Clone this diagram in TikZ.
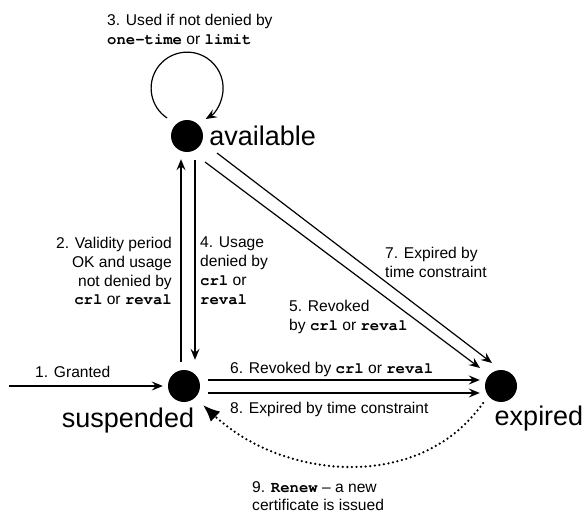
\documentclass[tikz,border=0pt]{standalone}
\usepackage{fontspec}
\setmainfont{Liberation Sans}
\setmonofont{TeX Gyre Cursor}
\usetikzlibrary{positioning,arrows.meta}
\newcommand{\kw}[1]{{\ttfamily\bfseries #1}}

\begin{document}
\begin{tikzpicture}[x=1pt,y=1pt,
  state/.style={circle,fill=black,inner sep=0pt,minimum size=32pt},
  txt/.style={inner sep=0pt,font=\fontsize{15.6}{18.8}\selectfont},
  bigtxt/.style={inner sep=0pt,font=\fontsize{27}{30}\selectfont},
  arr/.style={line width=1.2pt,-{Stealth[length=11pt,width=9pt,inset=4pt]}},
  renew/.style={line width=2.5pt,line cap=round,dash pattern=on 0pt off 4.6pt,
    -{Latex[length=17pt,width=14pt]}}]
\useasboundingbox (0,0) rectangle (587,515);

\node[state,label={[bigtxt,label distance=6pt]right:available}] (avail) at (187,379) {};
\node[state] (susp) at (184,129) {};
\node[state] (exp) at (501,129) {};
\node[bigtxt,below=6pt of susp,xshift=-56pt] (susplbl) {suspended};
\node[bigtxt,below=4pt of exp,xshift=38pt] (explbl) {expired};

\coordinate (entry) at (9,129);

% transitions
\draw[arr] (entry) -- ([xshift=-5pt]susp.west);
\draw[arr] ([xshift=-3pt,yshift=8pt]susp.north) -- ([xshift=-6pt,yshift=-7pt]avail.south);
\draw[arr] ([shift={(-20pt,18pt)}]avail.center) arc[start angle=236,end angle=-59,radius=36pt];
\draw[arr] ([xshift=8pt,yshift=-8pt]avail.south) -- ([xshift=11pt,yshift=10pt]susp.north);
\draw[arr] ([shift={(18pt,-26pt)}]avail.center) -- ([shift={(-21pt,18pt)}]exp.center);
\draw[arr] ([shift={(8pt,6pt)}]susp.east) -- ([shift={(-5pt,6pt)}]exp.west);
\draw[arr] ([shift={(30pt,-17pt)}]avail.center) -- ([shift={(-9pt,23pt)}]exp.center);
\draw[arr] ([shift={(8pt,-7pt)}]susp.east) -- ([shift={(-5pt,-7pt)}]exp.west);
\draw[renew] ([shift={(-18pt,-17pt)}]exp.center) to[out=-125,in=-43] ([shift={(19pt,-19pt)}]susp.center);

% labels
\node[txt,anchor=north west] (granted) at (35,149) {1. Granted};
\node[txt,anchor=north east,align=right] (valid) at (172,278)
  {2. Validity period\\OK and usage\\not denied by\\\kw{crl} or \kw{reval}};
\node[txt,anchor=north west,align=left] (used) at (107,501)
  {3. Used if not denied by\\\kw{one-time} or \kw{limit}};
\node[txt,anchor=north west,align=left] (usage) at (200,278)
  {4. Usage\\denied by\\\kw{crl} or\\\kw{reval}};
\node[txt,anchor=north west,align=left] (revokeda) at (289,215)
  {5. Revoked\\by \kw{crl} or \kw{reval}};
\node[txt,anchor=north west] (revokeds) at (230,153) {6. Revoked by \kw{crl} or \kw{reval}};
\node[txt,anchor=north west,align=left] (expireda) at (385,268)
  {7. Expired by\\time constraint};
\node[txt,anchor=north west] (expireds) at (230,113) {8. Expired by time constraint};
\node[txt,anchor=north west,align=left] (renewlbl) at (252,34)
  {9. \kw{Renew} -- a new\\certificate is issued};
\end{tikzpicture}
\end{document}
